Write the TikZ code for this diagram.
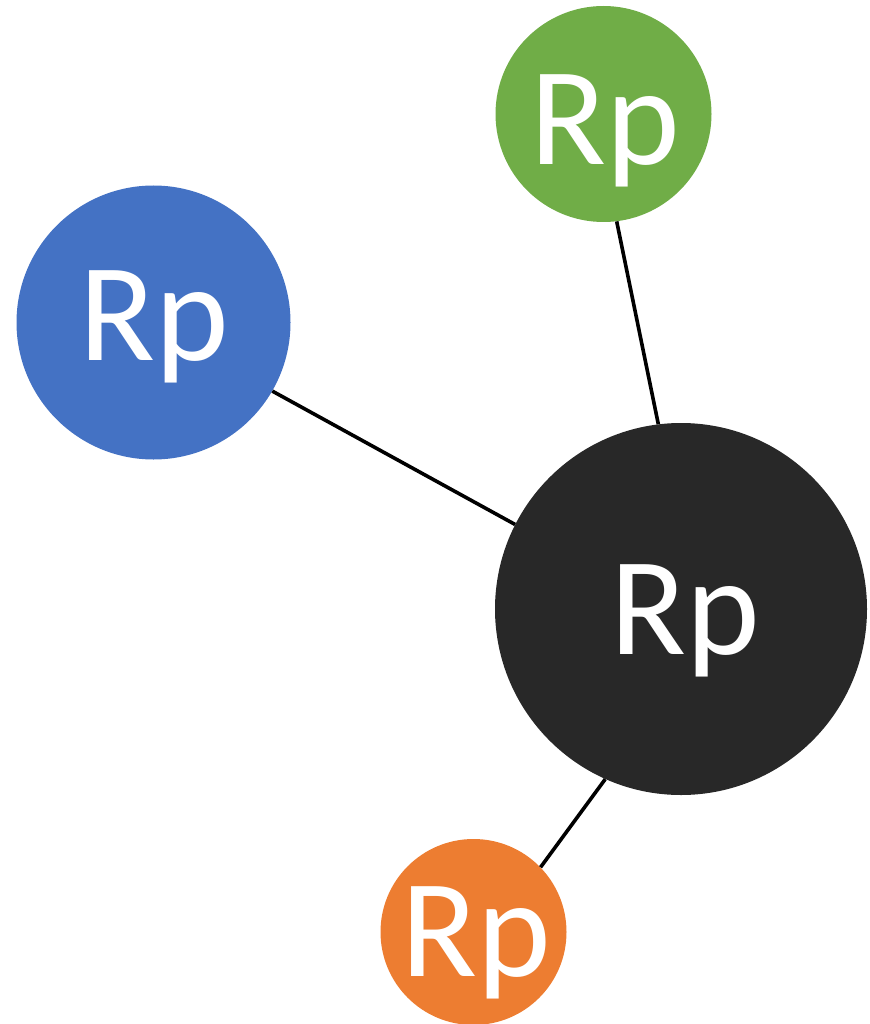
\documentclass[tikz,border=0pt]{standalone}
\usepackage{fontspec}
\setmainfont{Carlito}
\definecolor{rpblue}{HTML}{4472C4}
\definecolor{rpgreen}{HTML}{70AD47}
\definecolor{rporange}{HTML}{ED7D31}
\definecolor{rpdark}{HTML}{282828}
\tikzset{
  ball/.style={circle, inner sep=0pt, draw=none},
  rplabel/.style={anchor=base, text=white, inner sep=0pt,
    font=\fontsize{140}{145}\selectfont},
  link/.style={draw=black, line width=3.6pt}
}
\begin{document}
\begin{tikzpicture}[x=1pt,y=-1pt]
  \useasboundingbox (0,0) rectangle (869,1024);
  % the four spheres
  \node[ball, fill=rpgreen, minimum size=216pt] (g) at (603.5,114) {};
  \node[ball, fill=rpblue, minimum size=274pt] (b) at (153.5,322.5) {};
  \node[ball, fill=rpdark, minimum size=372pt] (k) at (681,609) {};
  \node[ball, fill=rporange, minimum size=186pt] (o) at (473.5,932) {};
  % their labels
  \node[rplabel] (tg) at (605,165) {Rp};
  \node[rplabel] (tb) at (154,360) {Rp};
  \node[rplabel] (tk) at (685.5,654) {Rp};
  \node[rplabel] (to) at (476.5,976) {Rp};
  % bonds
  \draw[link] (g.277) -- (k.97);
  \draw[link] (b.330.5) -- (k.153.2);
  \draw[link] (k.246) -- (o.44.8);
\end{tikzpicture}
\end{document}
